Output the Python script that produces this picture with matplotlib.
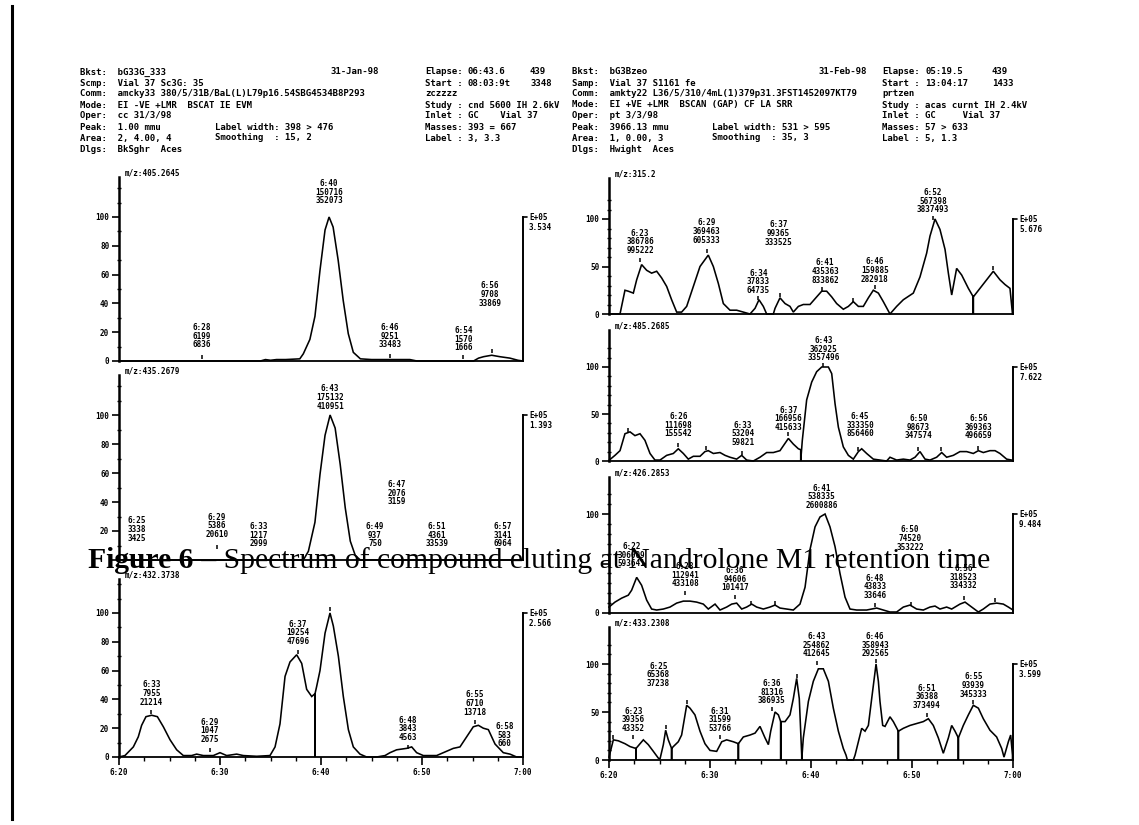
import matplotlib
matplotlib.use("Agg")
import matplotlib.pyplot as plt
from matplotlib.lines import Line2D

W, H = 1139, 825
INK = "#000000"
plt.rcParams["font.family"] = ["DejaVu Sans Mono"]
plt.rcParams["font.weight"] = "bold"

# ---------------- data ----------------
xtick_vals = [20, 30, 40, 50, 60]
xtick_labels = ["6:20", "6:30", "6:40", "6:50", "7:00"]
yticks_left = [0, 20, 40, 60, 80, 100]
yticks_right = [0, 50, 100]

# header texts (left report)
hdrL_main = ["Bkst:  bG33G_333", "Scmp:  Vial 37 Sc3G: 35",
             "Comm:  amcky33 380/5/31B/BaL(L)L79p16.54SBG4534B8P293",
             "Mode:  EI -VE +LMR  BSCAT IE EVM", "Oper:  cc 31/3/98",
             "Peak:  1.00 mmu", "Area:  2, 4.00, 4", "Dlgs:  BkSghr  Aces"]
hdrL_mid = ["", "", "", "", "", "Label width: 398 > 476", "Smoothing  : 15, 2", ""]
hdrL_date = "31-Jan-98"
hdrL_right = ["Elapse:", "Start :", "zczzzz", "Study : cnd 5600 IH 2.6kV",
              "Inlet : GC    Vial 37", "Masses: 393 = 667", "Label : 3, 3.3", ""]
hdrL_val = ["06:43.6", "08:03:9t"]
hdrL_cnt = ["439", "3348"]

# header texts (right report)
hdrR_main = ["Bkst:  bG3Bzeo", "Samp:  Vial 37 S1161 fe",
             "Comm:  amkty22 L36/5/310/4mL(1)379p31.3FST1452097KT79",
             "Mode:  EI +VE +LMR  BSCAN (GAP) CF LA SRR", "Oper:  pt 3/3/98",
             "Peak:  3966.13 mmu", "Area:  1, 0.00, 3", "Dlgs:  Hwight  Aces"]
hdrR_mid = ["", "", "", "", "", "Label width: 531 > 595", "Smoothing  : 35, 3", ""]
hdrR_date = "31-Feb-98"
hdrR_right = ["Elapse:", "Start :", "prtzen", "Study : acas curnt IH 2.4kV",
              "Inlet : GC     Vial 37", "Masses: 57 > 633", "Label : 5, 1.3", ""]
hdrR_val = ["05:19.5", "13:04:17"]
hdrR_cnt = ["439", "1433"]

caption_bold = "Figure 6"
caption_rest = " \u2013 Spectrum of compound eluting at Nandrolone M1 retention time"

# ---- panel L1 ----
l1_mz = "m/z:405.2645"
l1_scale = "E+05\n3.534"
l1_t = [20.0, 34.0, 34.5, 35.0, 35.6, 36.5, 37.9, 38.25, 38.9, 39.4, 39.9, 40.4, 40.8, 41.2,
        41.7, 42.2, 42.7, 43.2, 43.9, 45.0, 47.0, 48.8, 49.5, 55.1, 55.6, 56.1, 56.9, 57.7,
        58.7, 59.5, 60.0]
l1_y = [0, 0, 1, 0.5, 1, 1, 1.5, 5, 15, 31, 63, 91, 100, 93, 70, 42, 19, 6, 1.5, 1, 1, 1, 0,
        0, 2, 3, 4, 3, 2, 0.5, 0]
l1_ann_t = [40.8, 28.2, 46.8, 54.1, 56.7]
l1_ann_y = [108, 8, 8, 6, 37]
l1_ann_txt = ["6:40\n150716\n352073", "6:28\n6199\n6836", "6:46\n9251\n33483",
              "6:54\n1570\n1666", "6:56\n9708\n33869"]
l1_tick_t = [28.2, 46.8, 54.1, 56.9]
l1_tick_y = [3, 3.5, 3, 7]

# ---- panel L2 ----
l2_mz = "m/z:435.2679"
l2_scale = "E+05\n1.393"
l2_t = [20.0, 38.25, 38.75, 39.4, 39.9, 40.4, 40.9, 41.4, 41.9, 42.4, 42.9, 43.4, 43.9, 60.0]
l2_y = [0, 0, 6, 26, 59, 86, 100, 91, 66, 36, 13, 3, 0, 0]
l2_ann_t = [40.9, 21.75, 29.7, 33.8, 47.5, 45.35, 51.45, 58.0]
l2_ann_y = [103, 12, 14.5, 8, 37, 8, 8, 8]
l2_ann_txt = ["6:43\n175132\n410951", "6:25\n3338\n3425", "6:29\n5386\n20610",
              "6:33\n1217\n2999", "6:47\n2076\n3159", "6:49\n937\n750",
              "6:51\n4361\n33539", "6:57\n3141\n6964"]
l2_tick_t = [29.7]
l2_tick_y = [9]
l2_hidden_ylabels = [0]          # covered by the caption in the scan

# ---- panel L3 ----
l3_mz = "m/z:432.3738"
l3_scale = "E+05\n2.566"
l3_t = [20.0, 20.59, 21.42, 21.91, 22.24, 22.67, 23.23, 23.80, 24.39, 25.05, 25.71, 26.37,
        27.19, 27.69, 28.35, 29.34, 30.0, 30.66, 31.65, 32.31, 33.63, 34.95, 35.45, 35.94,
        36.44, 36.93, 37.59, 38.09, 38.58, 39.08, 39.41, 39.41, 39.41, 39.57, 39.90, 40.40,
        40.89, 41.22, 41.72, 42.21, 42.71, 43.20, 43.86, 44.52, 45.51, 46.34, 46.83, 47.49,
        48.48, 48.98, 49.47, 50.13, 51.45, 52.11, 53.10, 53.76, 54.42, 55.08, 55.58, 56.07,
        56.57, 57.23, 58.05, 58.71, 59.37, 60.0]
l3_y = [0, 1, 7, 14, 22, 28, 29, 28, 21, 12, 5, 1, 1, 2, 1, 1, 3, 1, 2, 1, 0.5, 1, 7, 23,
        56, 66, 71, 65, 47, 42, 44, 0, 44, 49, 60, 86, 100, 91, 70, 42, 19, 7, 2, 0, 0, 1,
        3, 5, 6, 7, 3, 1, 1, 3, 6, 7, 14, 21, 22, 20, 19, 9, 3, 2, 0, 0]
l3_ann_t = [23.2, 29.0, 37.7, 48.6, 55.2, 58.2]
l3_ann_y = [35, 9, 77, 10.5, 28, 6]
l3_ann_txt = ["6:33\n7955\n21214", "6:29\n1047\n2675", "6:37\n19254\n47696",
              "6:48\n3843\n4563", "6:55\n6710\n13718", "6:58\n583\n660"]
l3_tick_t = [23.2, 29.0, 37.7, 40.89, 48.6, 55.2]
l3_tick_y = [31, 5, 73, 103, 7, 24]

# ---- panel R1 ----
r1_mz = "m/z:315.2"
r1_scale = "E+05\n5.676"
r1_t = [20.00, 21.09, 21.58, 21.91, 22.41, 22.74, 23.23, 23.73, 24.22, 24.72, 25.21, 25.71,
        26.20, 26.70, 27.19, 27.69, 28.35, 29.01, 29.83, 30.33, 30.83, 31.32, 31.98, 32.64,
        33.30, 33.96, 34.46, 34.85, 35.28, 35.61, 36.27, 36.44, 36.93, 37.43, 37.92, 38.25,
        38.75, 39.24, 39.90, 40.56, 41.06, 41.55, 42.05, 42.54, 43.20, 43.70, 44.19, 44.69,
        45.18, 45.68, 46.17, 46.67, 47.16, 47.82, 48.48, 49.14, 50.13, 50.79, 51.45, 51.78,
        52.28, 52.77, 53.27, 53.60, 53.93, 54.42, 54.92, 55.58, 56.07, 56.07, 56.07, 56.73,
        57.39, 58.05, 58.71, 59.21, 59.70, 59.95, 60.0]
r1_y = [0, 0, 25, 24, 22, 36, 52, 46, 43, 45, 38, 29, 15, 2, 2, 8, 29, 50, 62, 50, 32, 11, 4,
        4, 2, 0, 6, 15, 8, 0, 0, 6, 17, 11, 8, 2, 8, 10, 10, 18, 24, 24, 18, 11, 5, 8, 13, 8,
        8, 17, 25, 22, 13, 0, 8, 15, 22, 39, 64, 82, 100, 89, 68, 43, 20, 48, 41, 27, 18, 0,
        18, 27, 36, 45, 36, 31, 27, 0, 0]
r1_ann_t = [23.07, 29.67, 34.8, 36.8, 41.4, 46.3, 52.1]
r1_ann_y = [62, 73, 20, 71, 31, 32, 105]
r1_ann_txt = ["6:23\n386786\n995222", "6:29\n369463\n605333", "6:34\n37833\n64735",
              "6:37\n99365\n333525", "6:41\n435363\n833862", "6:46\n159885\n282918",
              "6:52\n567398\n3837493"]
r1_tick_t = [23.07, 29.67, 34.8, 36.9, 41.1, 44.2, 46.3, 52.1, 58.05]
r1_tick_y = [57, 66, 17, 20, 26, 15, 28, 101, 48]

# ---- panel R2 ----
r2_mz = "m/z:485.2685"
r2_scale = "E+05\n7.622"
r2_t = [20.00, 20.59, 21.09, 21.58, 22.08, 22.57, 23.07, 23.56, 24.06, 24.55, 25.05, 25.71,
        26.37, 26.86, 27.36, 27.85, 28.35, 29.01, 29.50, 29.83, 30.33, 30.99, 31.49, 31.98,
        32.64, 33.14, 33.63, 34.29, 34.95, 35.61, 36.27, 36.93, 37.76, 38.25, 38.75, 38.98,
        38.98, 39.14, 39.57, 40.07, 40.56, 41.06, 41.72, 42.05, 42.38, 42.71, 43.20, 43.70,
        44.19, 44.69, 45.02, 45.51, 46.17, 46.83, 47.49, 47.82, 48.48, 49.14, 49.80, 50.30,
        50.79, 51.29, 51.78, 52.44, 52.94, 53.43, 54.09, 54.75, 55.41, 56.07, 56.57, 57.06,
        57.72, 58.22, 58.71, 59.37, 59.87, 60.0]
r2_y = [0.7, 6, 11, 29, 31, 27, 29, 22, 8, 1, 1, 6, 8, 13, 8, 2, 5, 5, 10, 11, 8, 9, 6, 4, 2,
        6, 1, 0, 4, 9, 9, 11, 24, 18, 13, 12, 0, 22, 65, 84, 95, 100, 100, 93, 61, 36, 15, 6,
        2, 10, 13, 8, 2, 1, 0, 4, 1, 2, 1, 4, 10, 2, 1, 4, 9, 4, 6, 10, 10, 8, 11, 9, 11, 11,
        8, 2, 1, 0]
r2_ann_t = [26.86, 33.23, 37.76, 41.22, 44.85, 50.63, 56.57]
r2_ann_y = [24, 15, 31, 105, 24, 22, 22]
r2_ann_txt = ["6:26\n111698\n155542", "6:33\n53204\n59821", "6:37\n166956\n415633",
              "6:43\n362925\n3357496", "6:45\n333350\n856460", "6:50\n98673\n347574",
              "6:56\n369363\n496659"]
r2_tick_t = [21.9, 26.86, 29.6, 33.2, 37.76, 41.22, 44.7, 50.6, 52.9, 56.57]
r2_tick_y = [33, 17, 14, 9, 29, 102, 13, 13, 13, 14]

# ---- panel R3 ----
r3_mz = "m/z:426.2853"
r3_scale = "E+05\n9.484"
r3_t = [20.00, 20.59, 21.25, 21.91, 22.24, 22.74, 23.23, 23.73, 24.22, 24.72, 25.38, 26.04,
        26.70, 27.36, 28.02, 28.68, 29.34, 29.83, 30.50, 30.99, 31.65, 32.15, 32.64, 33.14,
        33.63, 34.13, 34.62, 35.28, 35.94, 36.44, 36.93, 37.59, 38.25, 38.91, 39.41, 39.90,
        40.40, 40.89, 41.39, 41.88, 42.38, 42.87, 43.37, 43.86, 44.52, 45.51, 46.50, 47.16,
        47.82, 48.48, 49.14, 49.80, 50.46, 51.12, 51.78, 52.28, 52.77, 53.43, 53.93, 54.75,
        55.25, 55.91, 56.57, 57.06, 57.72, 58.38, 59.04, 59.54, 60.0]
r3_y = [6, 11, 15, 18, 23, 36, 28, 13, 4, 3, 4, 6, 10, 12, 12, 11, 9, 4, 9, 3, 6, 9, 10, 4,
        6, 9, 6, 4, 6, 8, 5, 4, 3, 9, 26, 64, 87, 97, 100, 87, 67, 40, 16, 4, 3, 3, 5, 3, 1,
        1, 6, 8, 4, 3, 6, 7, 4, 6, 4, 9, 11, 6, 1, 4, 9, 10, 9, 6, 3]
r3_ann_t = [22.24, 27.52, 32.48, 41.06, 46.3, 49.8, 55.1]
r3_ann_y = [45, 25, 21, 104, 13, 62, 23]
r3_ann_txt = ["6:22\n306009\n593641", "6:28\n112941\n433108", "6:36\n94606\n101417",
              "6:41\n538335\n2600886", "6:48\n43833\n33646", "6:50\n74520\n353222",
              "6:56\n318523\n334332"]
r3_tick_t = [27.52, 32.48, 34.1, 36.44, 46.3, 49.9, 55.1, 58.2]
r3_tick_y = [20, 16, 10, 10, 8, 9, 15, 13]
r3_hidden_ylabels = [50]         # covered by the caption in the scan

# ---- panel R4 ----
r4_mz = "m/z:433.2308"
r4_scale = "E+05\n3.599"
r4_t = [20.00, 20.43, 20.92, 21.58, 22.08, 22.67, 22.67, 22.67, 23.40, 23.89, 24.39, 24.88,
        25.05, 25.38, 25.61, 25.87, 26.20, 26.20, 26.20, 26.37, 26.86, 27.19, 27.69, 28.02,
        28.51, 29.01, 29.50, 30.00, 30.66, 31.16, 31.65, 32.31, 32.81, 32.81, 32.81, 33.30,
        33.96, 34.46, 34.95, 35.45, 35.78, 36.01, 36.44, 36.77, 37.00, 37.00, 37.00, 37.43,
        37.92, 38.25, 38.58, 38.84, 39.08, 39.08, 39.24, 39.74, 40.23, 40.73, 41.22, 41.72,
        42.21, 42.71, 43.20, 43.47, 43.60, 44.19, 44.36, 44.69, 45.02, 45.35, 45.68, 46.01,
        46.44, 46.67, 46.83, 47.10, 47.33, 47.82, 48.15, 48.65, 48.65, 48.65, 49.14, 49.80,
        50.46, 51.12, 51.62, 52.11, 52.61, 53.10, 53.60, 53.93, 54.26, 54.59, 54.59, 54.59,
        55.08, 55.58, 56.07, 56.57, 57.06, 57.72, 58.38, 58.88, 59.11, 59.54, 59.77, 59.95,
        59.95, 60.0]
r4_y = [3, 21, 20, 17, 14, 12, 0, 12, 21, 16, 9, 2, 1, 16, 31, 21, 12, 0, 12, 14, 19, 26,
        57, 54, 47, 30, 17, 10, 9, 19, 21, 19, 17, 0, 17, 24, 26, 28, 35, 23, 16, 30, 50, 47,
        40, 0, 40, 40, 47, 64, 85, 64, 5, 0, 23, 61, 82, 95, 95, 82, 54, 30, 12, 5, 0, 0, 5,
        19, 33, 30, 36, 64, 100, 82, 61, 36, 35, 45, 40, 30, 0, 30, 33, 36, 38, 40, 43, 36,
        23, 7, 23, 36, 30, 23, 0, 23, 36, 47, 57, 54, 43, 31, 24, 12, 3, 19, 26, 5, 0, 0]
r4_ann_t = [22.41, 24.88, 30.99, 36.11, 40.56, 46.34, 51.45, 56.07]
r4_ann_y = [28, 75, 28, 57, 106, 106, 52, 64]
r4_ann_txt = ["6:23\n39356\n43352", "6:25\n65368\n37238", "6:31\n31599\n53766",
              "6:36\n81316\n386935", "6:43\n254862\n412645", "6:46\n358943\n292565",
              "6:51\n36388\n373494", "6:55\n93939\n345333"]
r4_tick_t = [20.43, 22.41, 25.61, 27.69, 30.99, 36.11, 38.58, 40.6, 46.4, 51.45, 56.07]
r4_tick_y = [24, 24, 34, 60, 24, 53, 88, 101, 103, 47, 60]

# ---------------- drawing ----------------
fig = plt.figure(figsize=(W / 100, H / 100), dpi=100)
fig.patch.set_facecolor("white")

def fx(px):
    return px / W

def fy(py):
    return 1 - py / H

# page border line on the left
fig.add_artist(Line2D([fx(12), fx(12)], [fy(6), fy(819)], color=INK, lw=2.2))

HDR_Y = [72, 83, 94, 105, 116, 127, 138, 149]
HFS = 6.5

def header(x0, xmid, xdate, xr, xval, xcnt, main, mid, date, right, vals, cnts):
    for i, yy in enumerate(HDR_Y):
        fig.text(fx(x0), fy(yy), main[i], fontsize=HFS, va="center", ha="left")
        if mid[i]:
            fig.text(fx(xmid), fy(yy), mid[i], fontsize=HFS, va="center", ha="left")
        if right[i]:
            fig.text(fx(xr), fy(yy), right[i], fontsize=HFS, va="center", ha="left")
    fig.text(fx(xdate), fy(HDR_Y[0]), date, fontsize=HFS, va="center", ha="left")
    for i in range(2):
        fig.text(fx(xval), fy(HDR_Y[i]), vals[i], fontsize=HFS, va="center", ha="left")
        fig.text(fx(xcnt), fy(HDR_Y[i]), cnts[i], fontsize=HFS, va="center", ha="left")

header(80, 215, 330, 425, 468, 530, hdrL_main, hdrL_mid, hdrL_date, hdrL_right, hdrL_val, hdrL_cnt)
header(572, 712, 818, 882, 925, 992, hdrR_main, hdrR_mid, hdrR_date, hdrR_right, hdrR_val, hdrR_cnt)

FS = 5.5

def panel(geom, t, y, ann_t, ann_y, ann_txt, tick_t, tick_y, mz, scale, yticks,
          xaxis=False, hidden=()):
    left, right, base, y100, top = geom
    ax = fig.add_axes([fx(left), fy(base), (right - left) / W, (base - top) / H])
    ax.patch.set_visible(False)
    ax.set_xlim(20, 60)
    ax.set_ylim(0, 100 * (base - top) / (base - y100))
    ax.plot(t, y, color=INK, lw=1.15, clip_on=False, solid_joinstyle="miter")
    ax.spines[["top", "right"]].set_visible(False)
    ax.spines["left"].set_linewidth(1.8)
    ax.spines["bottom"].set_linewidth(1.3)
    ax.set_yticks(yticks)
    ax.set_yticklabels(["" if v in hidden else str(v) for v in yticks])
    ax.set_yticks([v for v in range(0, 121, 10) if v not in yticks], minor=True)
    ax.tick_params(axis="y", which="major", length=5, width=1.2, pad=2, labelsize=FS)
    ax.tick_params(axis="y", which="minor", length=3, width=1.0, direction="inout")
    if xaxis:
        ax.set_xticks(xtick_vals)
        ax.set_xticklabels(xtick_labels)
        ax.set_xticks([20 + 2.5 * i for i in range(17)], minor=True)
        ax.tick_params(axis="x", which="major", length=6, width=1.2, pad=2, labelsize=FS)
        ax.tick_params(axis="x", which="minor", length=3, width=1.0)
    else:
        ax.set_xticks([])
    # full-scale bar at right end
    ax.plot([60, 60], [0, 100], color=INK, lw=1.4, clip_on=False)
    ax.annotate("", xy=(60, 100), xytext=(4, 0), textcoords="offset pixels",
                arrowprops=dict(arrowstyle="-", lw=1.2, color=INK, shrinkA=0, shrinkB=0))
    ax.annotate(scale, xy=(60, 100), xytext=(6, 4), textcoords="offset pixels",
                ha="left", va="top", fontsize=FS, linespacing=1.1)
    ax.annotate(mz, xy=(0, 1), xycoords="axes fraction", xytext=(6, 4),
                textcoords="offset pixels", ha="left", va="center", fontsize=FS)
    for tt, yy, s in zip(ann_t, ann_y, ann_txt):
        ax.text(tt, yy, s, ha="center", va="bottom", fontsize=FS, linespacing=0.95,
                clip_on=False)
    ax.plot(tick_t, tick_y, ls="none", marker="|", ms=3.5, mew=1.1, color=INK, clip_on=False)
    return ax

# geometry: left px, right px, baseline px, 100% px, axis top px
panel((119, 523, 361, 217, 177), l1_t, l1_y, l1_ann_t, l1_ann_y, l1_ann_txt,
      l1_tick_t, l1_tick_y, l1_mz, l1_scale, yticks_left)
panel((119, 523, 560, 415, 375), l2_t, l2_y, l2_ann_t, l2_ann_y, l2_ann_txt,
      l2_tick_t, l2_tick_y, l2_mz, l2_scale, yticks_left, hidden=l2_hidden_ylabels)
panel((119, 523, 757, 613, 579), l3_t, l3_y, l3_ann_t, l3_ann_y, l3_ann_txt,
      l3_tick_t, l3_tick_y, l3_mz, l3_scale, yticks_left, xaxis=True)
panel((609, 1013, 314, 219, 178), r1_t, r1_y, r1_ann_t, r1_ann_y, r1_ann_txt,
      r1_tick_t, r1_tick_y, r1_mz, r1_scale, yticks_right)
panel((609, 1013, 461, 367, 330), r2_t, r2_y, r2_ann_t, r2_ann_y, r2_ann_txt,
      r2_tick_t, r2_tick_y, r2_mz, r2_scale, yticks_right)
panel((609, 1013, 613, 514, 477), r3_t, r3_y, r3_ann_t, r3_ann_y, r3_ann_txt,
      r3_tick_t, r3_tick_y, r3_mz, r3_scale, yticks_right, hidden=r3_hidden_ylabels)
panel((609, 1013, 760, 664, 627), r4_t, r4_y, r4_ann_t, r4_ann_y, r4_ann_txt,
      r4_tick_t, r4_tick_y, r4_mz, r4_scale, yticks_right, xaxis=True)

# caption overlapping the plots, as in the scanned page
cap_base = fy(568)
t2 = fig.text(fx(990), cap_base, caption_rest, ha="right", va="baseline",
              fontfamily="Liberation Serif", fontweight="normal", fontsize=21.3, zorder=20)
fig.canvas.draw()
bb = t2.get_window_extent(renderer=fig.canvas.get_renderer())
fig.text(bb.x0 / W, cap_base, caption_bold, ha="right", va="baseline",
         fontfamily="Liberation Serif", fontweight="bold", fontsize=21.3, zorder=20)

fig.savefig("out.png", dpi=100, facecolor="white")
